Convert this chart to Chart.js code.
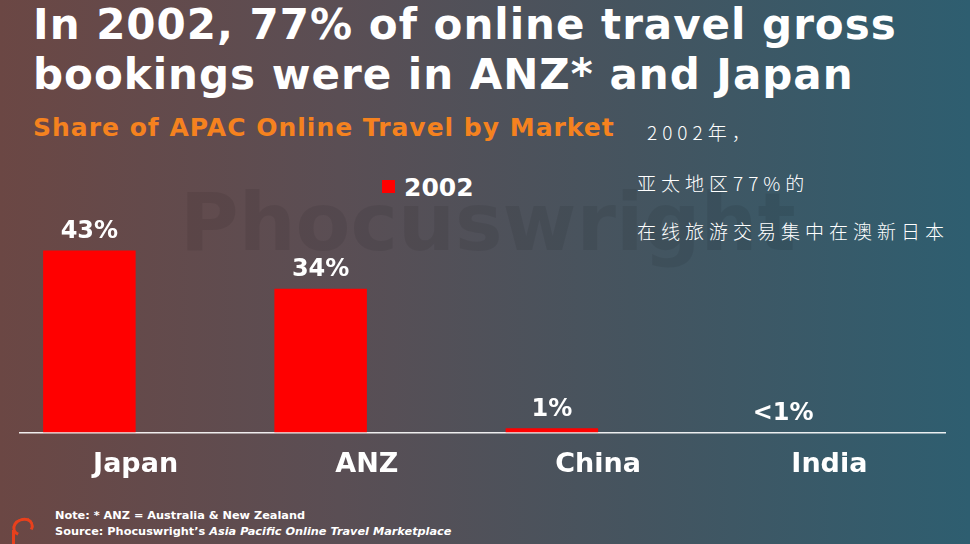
<!DOCTYPE html>
<html lang="en">
<head>
  <meta charset="UTF-8">
  <title>Share of APAC Online Travel by Market</title>
  <script src="https://cdn.jsdelivr.net/npm/chart.js"></script>
  <style>
    html, body { margin: 0; padding: 0; }
    body {
      width: 970px; height: 544px; overflow: hidden; position: relative;
      background: linear-gradient(to right, #6b4744 0%, #5a4e54 35%, #45545f 65%, #2e5e70 100%);
      font-family: "DejaVu Sans", sans-serif; color: white;
    }
    .title { position: absolute; left: 33px; top: 0px; font-size: 42px; font-weight: bold; letter-spacing: 1px; line-height: 50px; white-space: nowrap; }
    .subtitle { position: absolute; left: 33px; top: 113px; font-size: 25px; font-weight: bold; letter-spacing: 1px; color: #f5821f; white-space: nowrap; }
    .cn { position: absolute; font-family: "Noto Sans CJK SC", sans-serif; font-size: 19px; font-weight: 300; letter-spacing: 5px; white-space: nowrap; }
    .watermark { position: absolute; left: 180px; top: 176px; font-size: 80px; font-weight: bold; color: rgba(0,0,0,0.07); white-space: nowrap; }
    .legend { position: absolute; left: 382px; top: 173px; font-size: 25px; font-weight: bold; white-space: nowrap; }
    .legend span { display: inline-block; width: 13px; height: 13px; background: #ff0000; margin-right: 9px; vertical-align: 3px; }
    .foot { position: absolute; left: 55px; font-size: 11.3px; font-weight: bold; white-space: nowrap; }
    .logo { position: absolute; left: 12px; top: 518px; width: 16px; height: 12px; border: 3px solid #e8401c; border-radius: 50%; border-bottom-color: transparent; transform: rotate(-20deg); }
    .logo2 { position: absolute; left: 12px; top: 530px; width: 3px; height: 14px; background: #e8401c; }
    #wrap { position: absolute; left: 0; top: 0; width: 970px; height: 544px; }
  </style>
</head>
<body>
  <div class="watermark">Phocuswright</div>
  <div class="title">In 2002, 77% of online travel gross<br>bookings were in ANZ* and Japan</div>
  <div class="subtitle">Share of APAC Online Travel by Market</div>
  <div class="cn" style="left:647px; top:118px;">2002年，</div>
  <div class="cn" style="left:637px; top:169px;">亚太地区77%的</div>
  <div class="cn" style="left:637px; top:217px;">在线旅游交易集中在澳新日本</div>
  <div class="legend"><span></span>2002</div>
  <div class="foot" style="top:509px;">Note: * ANZ = Australia &amp; New Zealand</div>
  <div class="foot" style="top:525px;">Source: Phocuswright’s <i>Asia Pacific Online Travel Marketplace</i></div>
  <div class="logo"></div><div class="logo2"></div>
  <div id="wrap"><canvas id="chart"></canvas></div>

  <script>
    const markets = ['Japan', 'ANZ', 'China', 'India'];
    const share2002 = [43, 34, 1, 0];
    const shareLabels = ['43%', '34%', '1%', '<1%'];
    const emptySeries = [null, null, null, null];

    // draws the value text above each bar of the 2002 series
    const valueLabels = {
      id: 'valueLabels',
      afterDatasetsDraw(chart) {
        const ctx = chart.ctx;
        const meta = chart.getDatasetMeta(0);
        ctx.save();
        ctx.font = 'bold 24px "DejaVu Sans"';
        ctx.fillStyle = 'white';
        ctx.textAlign = 'center';
        ctx.textBaseline = 'bottom';
        meta.data.forEach((bar, i) => {
          ctx.fillText(shareLabels[i], bar.x, bar.y - 7);
        });
        ctx.restore();
      }
    };

    new Chart(document.getElementById('chart'), {
      type: 'bar',
      data: {
        labels: markets,
        datasets: [
          { label: '2002', data: share2002, backgroundColor: '#ff0000',
            categoryPercentage: 0.8, barPercentage: 1.0 },
          { label: '', data: emptySeries, backgroundColor: 'transparent',
            categoryPercentage: 0.8, barPercentage: 1.0 }
        ]
      },
      options: {
        responsive: true,
        maintainAspectRatio: false,
        animation: false,
        layout: { padding: { left: 20, right: 25, top: 221, bottom: 47 } },
        plugins: { legend: { display: false }, tooltip: { enabled: false } },
        scales: {
          x: {
            grid: { display: false, drawTicks: false },
            border: { color: 'rgba(255,255,255,0.9)', width: 1.5 },
            ticks: { color: 'white', padding: 16, font: { family: 'DejaVu Sans', size: 27, weight: 'bold' } }
          },
          y: { display: false, min: 0, max: 50 }
        }
      },
      plugins: [valueLabels]
    });
  </script>
</body>
</html>
